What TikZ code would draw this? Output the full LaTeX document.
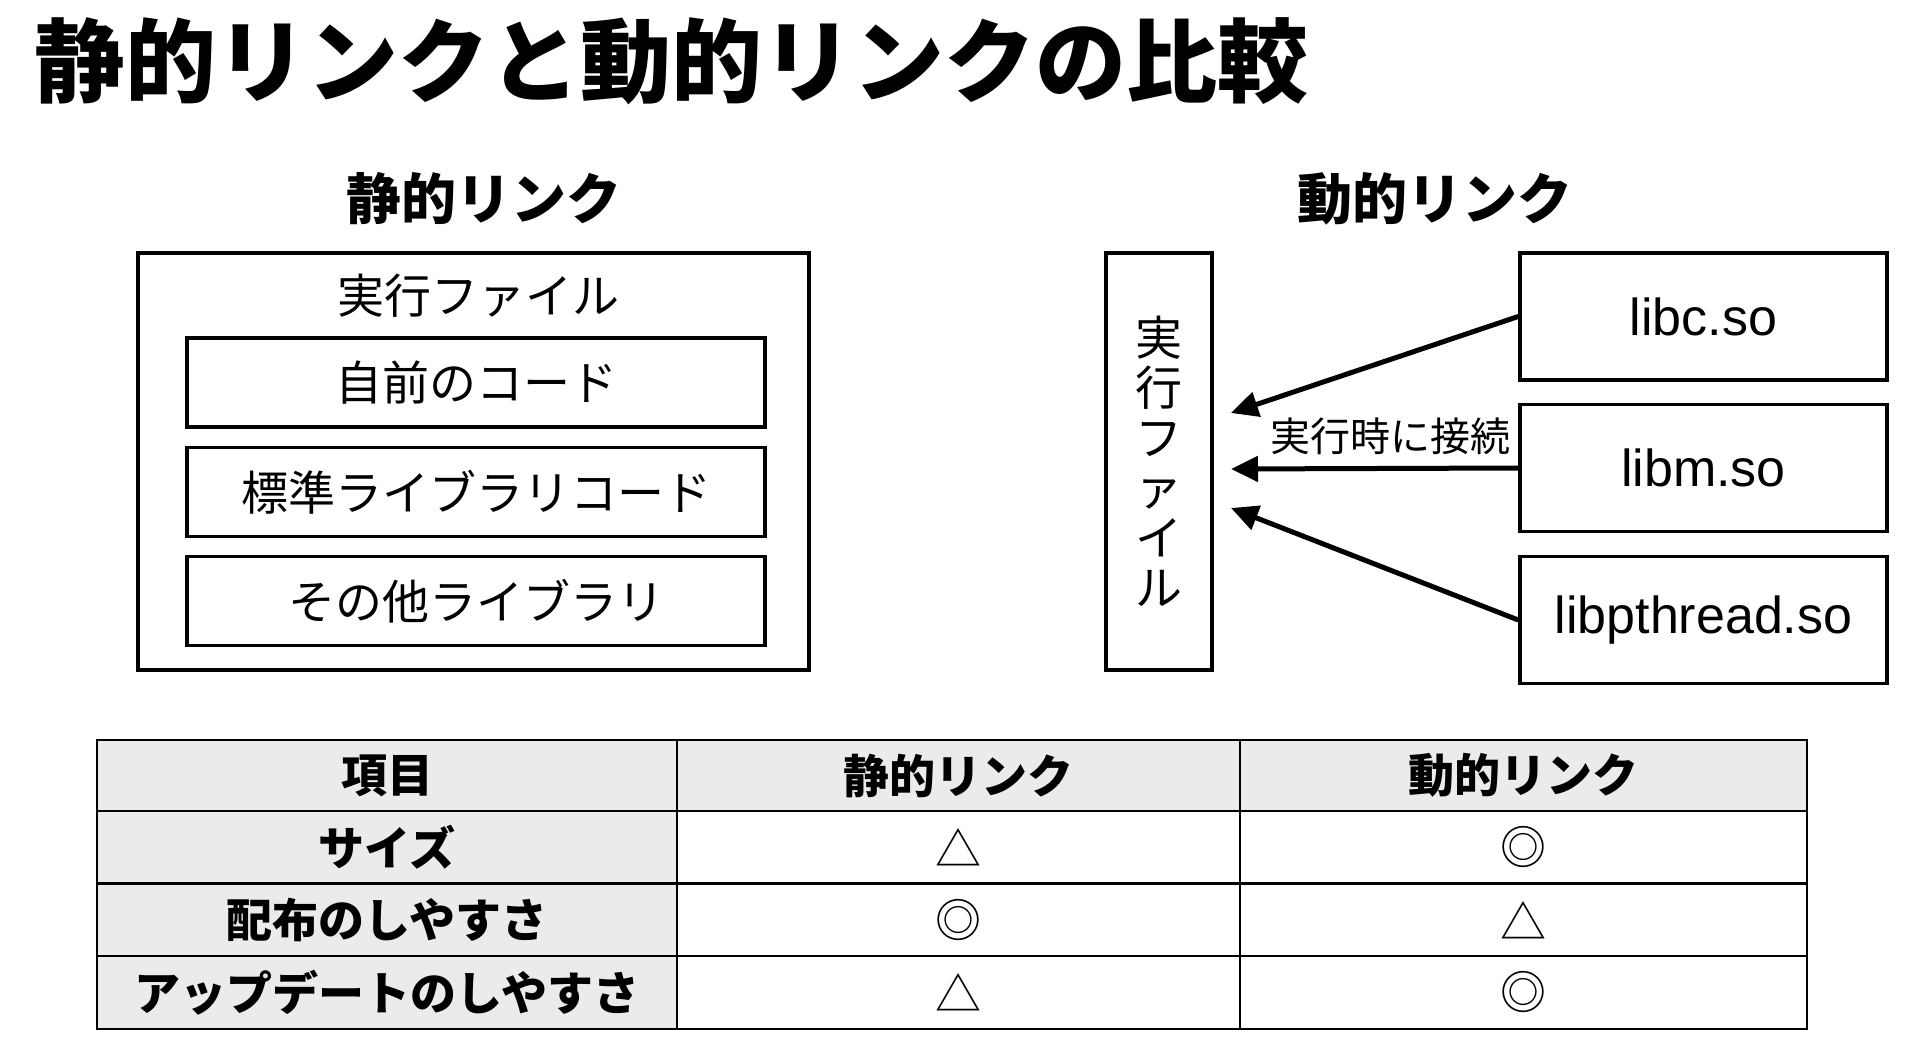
\documentclass[tikz,border=0pt]{standalone}
\usepackage{fontspec}
\setmainfont{Noto Sans CJK JP}
\newfontfamily\lat{Liberation Sans}
\usetikzlibrary{arrows.meta}
\definecolor{cellgray}{HTML}{EBEBEB}
\tikzset{
  box/.style={draw, line width=4pt, minimum width=#1, inner sep=0pt},
  inbox/.style={draw, line width=3.5pt, minimum width=578pt, minimum height=89pt, inner sep=0pt, font=\fontsize{47}{56}\selectfont},
  libbox/.style={draw, line width=3.5pt, minimum width=367pt, minimum height=127pt, inner sep=0pt, font=\lat\fontsize{52}{62}\selectfont},
  link/.style={line width=5pt, -{Triangle[length=27pt,width=25pt]}},
  cell/.style={draw, line width=2.5pt, inner sep=0pt, minimum height=#1},
  hcell/.style={cell=71pt, fill=cellgray, font=\bfseries\fontsize{46}{55}\selectfont},
  kcell/.style={cell=73pt, fill=cellgray, font=\bfseries\fontsize{46}{55}\selectfont},
  vcell/.style={cell=73pt, fill=white, font=\fontsize{46}{55}\selectfont},
}
\begin{document}
\begin{tikzpicture}[x=1pt,y=-1pt]
\path[use as bounding box, fill=white] (0,0) rectangle (1920,1047);

\node[anchor=west, inner sep=0pt, font=\bfseries\fontsize{91}{100}\selectfont] (title) at (34,61) {静的リンクと動的リンクの比較};

\node[font=\bfseries\fontsize{55}{64}\selectfont, inner sep=0pt] (hstat) at (484,199) {静的リンク};
\node[font=\bfseries\fontsize{55}{64}\selectfont, inner sep=0pt] (hdyn) at (1435,199) {動的リンク};

% static link
\node[box=671pt, minimum height=417pt] (outer) at (473.5,461.5) {};
\node[font=\fontsize{47}{56}\selectfont, inner sep=0pt] (exe1) at (478,296) {実行ファイル};
\node[inbox] (own) at (476,382.5) {自前のコード};
\node[inbox] (std) at (476,492) {標準ライブラリコード};
\node[inbox] (oth) at (476,601) {その他ライブラリ};

% dynamic link
\node[box=106pt, minimum height=417pt, align=center, font=\fontsize{47}{50}\selectfont] (exe2) at (1159,461.5) {実\\行\\フ\\ァ\\イ\\ル};
\node[libbox] (libc) at (1703.5,316.5) {libc.so};
\node[libbox] (libm) at (1703.5,468) {libm.so};
\node[libbox] (libp) at (1703.5,620) {libpthread.so};

\coordinate (t1) at (1231,413);
\coordinate (t2) at (1231,469);
\coordinate (t3) at (1231,508);
\draw[link] (libc.west) -- (t1);
\draw[link] (libm.west) -- (t2);
\draw[link] (libp.west) -- (t3);
\node[font=\fontsize{40}{48}\selectfont, inner sep=0pt] (conn) at (1390,436) {実行時に接続};

% table
\node[hcell, minimum width=580pt] (h0) at (387,775.5) {項目};
\node[hcell, minimum width=563pt] (h1) at (958.5,775.5) {静的リンク};
\node[hcell, minimum width=567pt] (h2) at (1523.5,775.5) {動的リンク};

\node[kcell, minimum width=580pt] (k1) at (387,847.5) {サイズ};
\node[vcell, minimum width=563pt] (a1) at (958.5,847.5) {△};
\node[vcell, minimum width=567pt] (b1) at (1523.5,847.5) {◎};

\node[kcell, minimum width=580pt] (k2) at (387,920) {配布のしやすさ};
\node[vcell, minimum width=563pt] (a2) at (958.5,920) {◎};
\node[vcell, minimum width=567pt] (b2) at (1523.5,920) {△};

\node[kcell, minimum width=580pt] (k3) at (387,992.5) {アップデートのしやすさ};
\node[vcell, minimum width=563pt] (a3) at (958.5,992.5) {△};
\node[vcell, minimum width=567pt] (b3) at (1523.5,992.5) {◎};
\end{tikzpicture}
\end{document}
